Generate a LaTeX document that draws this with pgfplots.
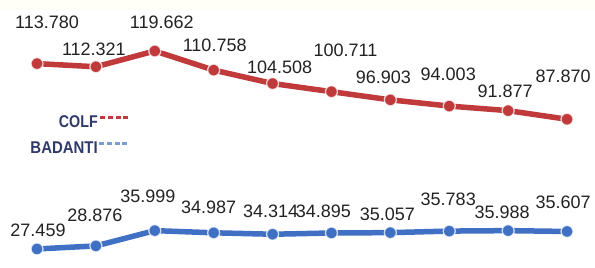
\documentclass[border=0pt]{standalone}
\usepackage{pgfplots}
\pgfplotsset{compat=1.18}
\usepackage{pgfplotstable}
\usepackage{fontspec}
\setmainfont{Liberation Sans}
\definecolor{cred}{RGB}{192,57,59}
\definecolor{cblue}{RGB}{64,112,196}
\definecolor{navy}{RGB}{48,58,106}
\definecolor{lbl}{RGB}{34,34,34}

\pgfplotstableread{
x y lab dx dy
1 113.780 113.780 10 41
2 112.321 112.321 -2 17
3 119.662 119.662 7 28.5
4 110.758 110.758 1 25
5 104.508 104.508 7 16.5
6 100.711 100.711 14 41.5
7 96.903 96.903 -7 23
8 94.003 94.003 -1 32
9 91.877 91.877 -3 19.7
10 87.870 87.870 -4 43
}\colf

\pgfplotstableread{
x y lab dx dy
1 27.459 27.459 1 19
2 28.876 28.876 -1 31
3 35.999 35.999 -7 34.6
4 34.987 34.987 -5 25.8
5 34.314 34.314 -2 23.2
6 34.895 34.895 -8 22
7 35.057 35.057 -3 18.6
8 35.783 35.783 -1 32
9 35.988 35.988 -6 18.6
10 35.607 35.607 -4 29.5
}\badanti

\begin{document}
\begin{tikzpicture}
\fill[white] (0,0) rectangle (595bp,268bp);
\fill[yellow!3!white] (0,258bp) rectangle (595bp,268bp);
\begin{axis}[
  at={(0,0)}, anchor=south west,
  scale only axis, width=595bp, height=268bp,
  xmin=0.3717, xmax=10.475, ymin=18.59, ymax=143.41,
  hide axis, clip=false,
  point meta=explicit symbolic,
  visualization depends on={\thisrow{dx} \as \dx},
  visualization depends on={\thisrow{dy} \as \dy},
  nodes near coords,
  every node near coord/.style={anchor=center, xshift={\dx*1bp}, yshift={\dy*1bp},
    font=\fontsize{18bp}{20bp}\selectfont, text=lbl, inner sep=0pt},
]
\addplot[cred, line width=5.5bp, mark=*, mark size=6bp,
  mark options={fill=cred, draw=white, draw opacity=0.75, line width=1.3bp}]
  table[x=x, y=y, meta=lab] {\colf};
\addplot[cblue, line width=5.5bp, mark=*, mark size=6bp,
  mark options={fill=cblue, draw=white, draw opacity=0.75, line width=1.3bp}]
  table[x=x, y=y, meta=lab] {\badanti};

% legend
\node[anchor=east, inner sep=0pt, text=navy, font=\bfseries\fontsize{17bp}{20bp}\selectfont]
  at (rel axis cs:{98/595},{1-121.5/268}) {\scalebox{0.84}[1]{COLF}};
\draw[cred, line width=3bp, dash pattern=on 5bp off 2.8bp]
  (rel axis cs:{100/595},{1-117.5/268}) -- (rel axis cs:{131/595},{1-117.5/268});
\node[anchor=east, inner sep=0pt, text=navy, font=\bfseries\fontsize{17bp}{20bp}\selectfont]
  at (rel axis cs:{98/595},{1-148/268}) {\scalebox{0.88}[1]{BADANTI}};
\draw[cblue!70!white, line width=3bp, dash pattern=on 5bp off 2.8bp]
  (rel axis cs:{99/595},{1-143.5/268}) -- (rel axis cs:{130/595},{1-143.5/268});
\end{axis}
\pgfresetboundingbox
\path (0,0) rectangle (595bp,268bp);
\end{tikzpicture}
\end{document}
